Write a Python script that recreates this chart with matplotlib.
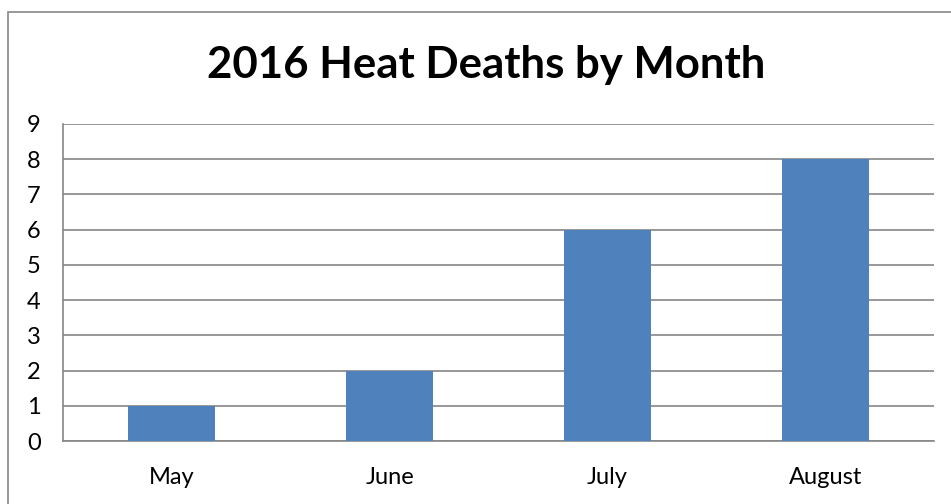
import matplotlib.pyplot as plt
from matplotlib.patches import Rectangle

plt.rcParams['font.family'] = ['Lato', 'DejaVu Sans']

months = ['May', 'June', 'July', 'August']
deaths = [1, 2, 6, 8]
yticks = list(range(0, 10))

fig = plt.figure(figsize=(9.51, 5.04), dpi=100)
ax = fig.add_axes([63 / 951, 1 - 441 / 504, (934 - 63) / 951, (441 - 124) / 504])

# outer chart border (cut off at right and bottom like the picture)
fig.patches.append(Rectangle((8 / 951, -0.1), 1.2, 1 - 12 / 504 + 0.1,
                             transform=fig.transFigure, fill=False,
                             edgecolor='#888888', linewidth=1.2))

x = range(len(months))
ax.bar(x, deaths, width=0.4, color='#4F81BD', zorder=3)

ax.set_xlim(-0.5, len(months) - 0.5)
ax.set_ylim(0, 9)
ax.set_yticks(yticks)
ax.set_xticks(list(x))
ax.set_xticklabels(months)
ax.yaxis.grid(True, color='#868686', linewidth=1.2, zorder=0)
ax.tick_params(axis='both', length=0, labelsize=17, colors='black')
ax.tick_params(axis='x', pad=19)
ax.tick_params(axis='y', pad=26)
for lbl in ax.get_yticklabels():
    lbl.set_horizontalalignment('left')

for s in ['top', 'right']:
    ax.spines[s].set_visible(False)
for s in ['left', 'bottom']:
    ax.spines[s].set_color('#868686')
    ax.spines[s].set_linewidth(1.2)

fig.text(486 / 951, 1 - 65 / 504, '2016 Heat Deaths by Month', ha='center',
         va='center', fontsize=31.5, fontweight='bold')

fig.savefig('out.png', dpi=100)
